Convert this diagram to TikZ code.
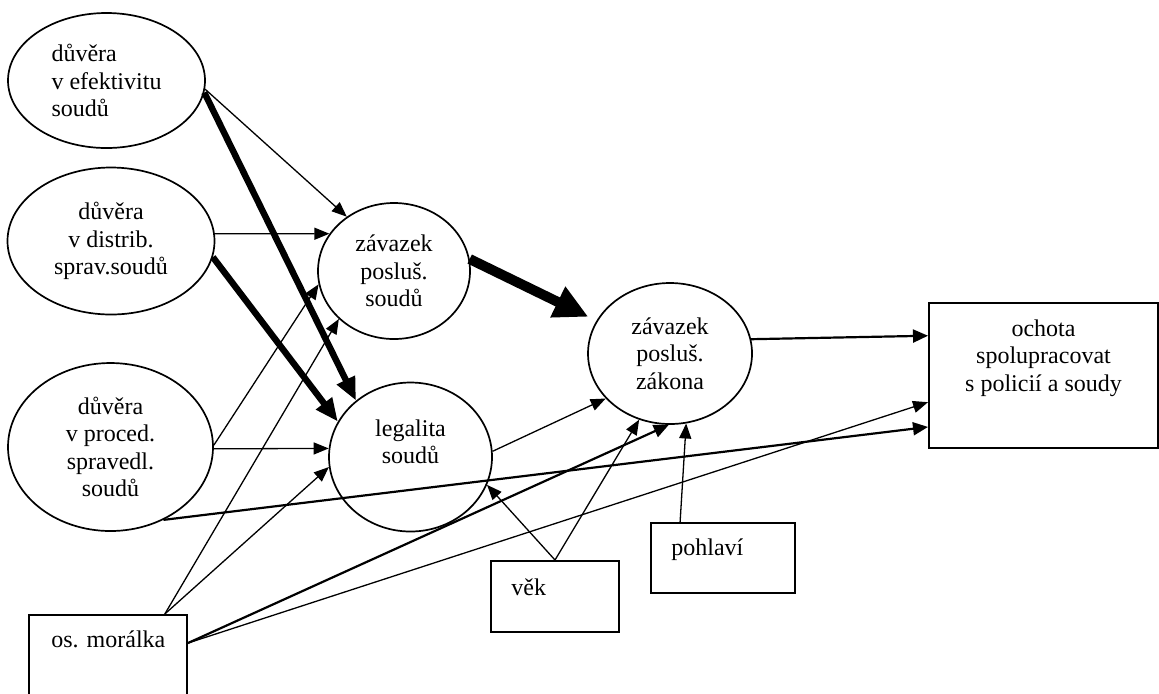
\documentclass[tikz,border=0pt]{standalone}
\usepackage{fontspec}
\setmainfont{Liberation Serif}
\usetikzlibrary{arrows.meta,shapes.geometric,positioning}

\begin{document}
\begin{tikzpicture}[x=0.5pt,y=-0.5pt,
    font=\fontsize{12pt}{13.8pt}\selectfont,
    oval/.style={draw,ellipse,line width=0.85pt,inner sep=0pt},
    box/.style={draw,rectangle,line width=1pt,inner sep=0pt},
    boxtxt/.style={anchor=north west,inner xsep=10.5pt,inner ysep=8pt},
    thin/.style={line width=0.65pt,-{Triangle[length=7.5pt,width=6pt]}},
    mid/.style={line width=1.1pt,-{Triangle[length=7.5pt,width=6.5pt]}},
    heavy/.style={line width=3.2pt,-{Triangle[length=11.5pt,width=9.5pt]}},
    heavier/.style={line width=5pt,-{Triangle[length=17pt,width=16pt]}}]

  \useasboundingbox (0,0) rectangle (1159,693);

  % trust in courts
  \node[oval,minimum width=98.5pt,minimum height=67.5pt,align=left] (eff) at (106.5,80.5) {důvěra\\v efektivitu\\soudů};
  \node[oval,minimum width=103.5pt,minimum height=73.5pt,align=center] (dis) at (111,241) {důvěra\\v distrib.\\sprav.soudů};
  \node[oval,minimum width=102.5pt,minimum height=84pt,align=center] (proc) at (110.5,447) {důvěra\\v proced.\\spravedl.\\soudů};

  % mediators
  \node[oval,minimum width=76pt,minimum height=68pt,align=center] (sou) at (394,271) {závazek\\posluš.\\soudů};
  \node[oval,minimum width=81.5pt,minimum height=74.5pt,
        label={[name=legtext,align=center,yshift=7.7pt]center:legalita\\soudů}] (leg) at (410.5,457) {};
  \node[oval,minimum width=82pt,minimum height=70.5pt,align=center] (zak) at (670,353.5) {závazek\\posluš.\\zákona};

  % outcome and controls
  \node[box,minimum width=114.5pt,minimum height=72.5pt,
        label={[name=ochtext,anchor=north,align=center,inner ysep=8.5pt]north:ochota\\spolupracovat\\s policií a soudy}] (och) at (1043.5,375.5) {};
  \node[box,minimum width=72pt,minimum height=35pt,
        label={[name=pohltext,boxtxt]north west:pohlaví}] (pohl) at (723,558) {};
  \node[box,minimum width=64pt,minimum height=35.5pt,
        label={[name=vektext,boxtxt,inner ysep=9pt]north west:věk}] (vek) at (555,596.5) {};
  \node[box,minimum width=79pt,minimum height=45pt,
        label={[name=mortext,boxtxt,inner xsep=11.5pt]north west:os. morálka}] (mor) at (108,660) {};

  \draw[thin] (eff.-5) -- (sou.131);      %efektivita -> soudy
  \draw[heavy] (eff.-7) -- (leg.134.3);   %efektivita -> legalita
  \draw[thin] (dis.4.4) -- (sou.150.8);
  \draw[heavy] (dis.-9.3) -- (leg.154.9);
  \draw[thin] (proc.1) -- (sou.190.4);
  \draw[thin] (proc.-1) -- (leg.174.5);
  \draw[mid] (proc.-54.4) -- (och.204);

  \draw[thin] (mor.39.8) -- (sou.221.2);  %moralka
  \draw[thin] (mor.39.8) -- (leg.187.5);
  \draw[mid] (mor.12.8) -- (zak.269);
  \draw[thin] (mor.12.8) -- (och.193);

  \draw[heavier,shorten >=4.5pt] (sou.9.7) -- (zak.156.6);
  \draw[thin] (leg.4.9) -- (zak.215.5);
  \draw[mid] (zak.10.7) -- (och.161.9);

  \draw[thin] (vek.north) -- (leg.-20);   %vek
  \draw[thin] (vek.north) -- (zak.245.8);
  \draw[thin] (pohl.140) -- (zak.283.8);  %pohlavi
\end{tikzpicture}
\end{document}
